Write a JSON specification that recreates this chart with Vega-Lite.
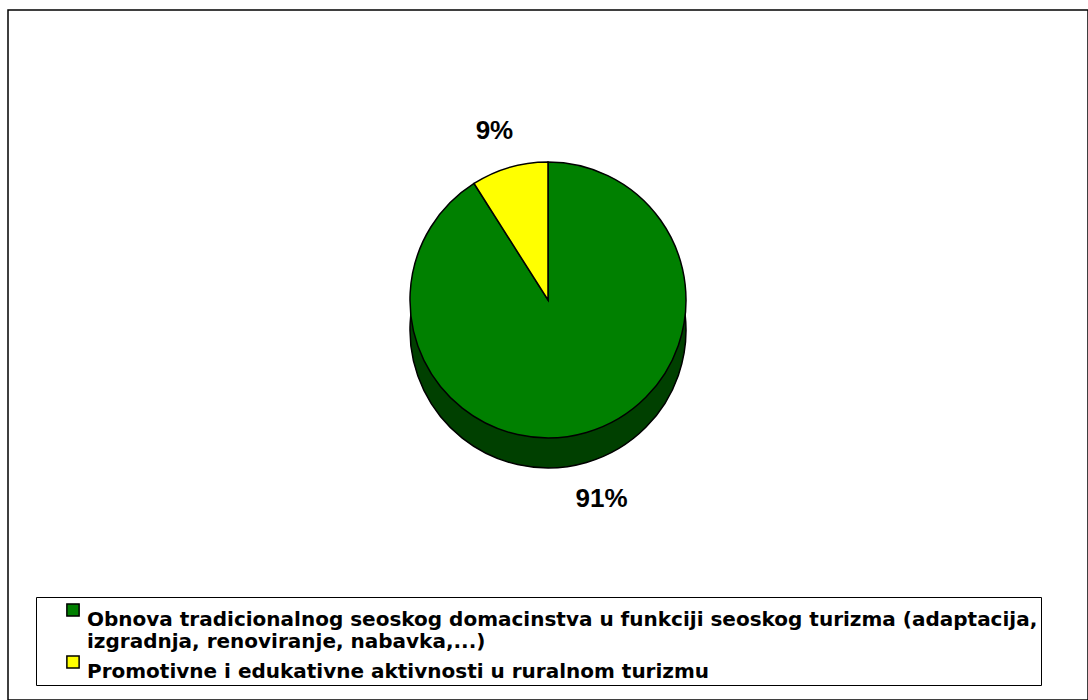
{
  "$schema": "https://vega.github.io/schema/vega-lite/v6.json",
  "width": 1080,
  "height": 690,
  "padding": {"left": 8, "top": 10, "right": 0, "bottom": 0},
  "autosize": {"type": "none"},
  "background": "white",
  "view": {"stroke": "black", "strokeWidth": 1.5, "fill": "white"},
  "config": {
    "font": "Liberation Sans"
  },
  "data": {
    "values": [
      {"category": "Obnova tradicionalnog seoskog domacinstva u funkciji seoskog turizma (adaptacija, izgradnja, renoviranje, nabavka,...)", "value": 91, "label": "91%"},
      {"category": "Promotivne i edukativne aktivnosti u ruralnom turizmu", "value": 9, "label": "9%"}
    ]
  },
  "encoding": {
    "theta": {"field": "value", "type": "quantitative", "stack": true},
    "order": {"field": "category", "type": "nominal"}
  },
  "layer": [
    {
      "mark": {"type": "arc", "outerRadius": 138, "yOffset": -25, "stroke": "black", "strokeWidth": 1.5, "fill": "#004000"},
      "encoding": {}
    },
    {
      "mark": {"type": "arc", "outerRadius": 138, "yOffset": -55, "stroke": "black", "strokeWidth": 1.5},
      "encoding": {
        "color": {
          "field": "category",
          "type": "nominal",
          "scale": {"range": ["#008000", "#FFFF00"]},
          "legend": {
            "title": " ",
            "titleOrient": "left",
            "titlePadding": 24,
            "titleFontSize": 4,
            "orient": "none",
            "legendX": 28,
            "legendY": 587,
            "direction": "vertical",
            "strokeColor": "black",
            "padding": 3,
            "rowPadding": 0,
            "symbolType": "square",
            "symbolSize": 150,
            "symbolStrokeColor": "black",
            "symbolStrokeWidth": 1.5,
            "symbolOpacity": 1,
            "labelFont": "DejaVu Sans",
            "labelFontWeight": "bold",
            "labelFontSize": 20,
            "labelColor": "black",
            "labelLimit": 1100,
            "labelBaseline": "top",
            "labelExpr": "indexof(datum.label, 'izgradnja') >= 0 ? [slice(datum.label, 0, indexof(datum.label, 'izgradnja') - 1), slice(datum.label, indexof(datum.label, 'izgradnja'))] : datum.label"
          }
        }
      }
    },
    {
      "mark": {"type": "text", "radius": 192, "yOffset": -40, "font": "Liberation Sans", "fontWeight": "bold", "fontSize": 26, "fill": "black"},
      "encoding": {
        "text": {"field": "label", "type": "nominal"}
      }
    }
  ]
}
